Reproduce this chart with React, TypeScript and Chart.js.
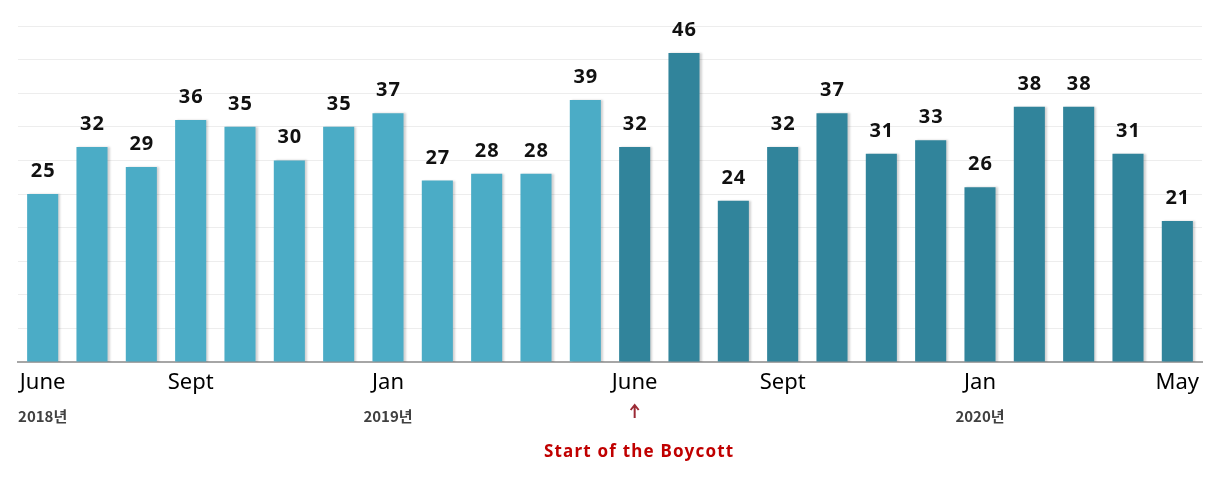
import React, { useEffect, useRef } from "react";
import { Chart, registerables } from "chart.js";

Chart.register(...registerables);

const months = [
  "June", "", "", "Sept", "", "", "", "Jan", "", "", "", "",
  "June", "", "", "Sept", "", "", "", "Jan", "", "", "", "May",
];
const values = [25, 32, 29, 36, 35, 30, 35, 37, 27, 28, 28, 39, 32, 46, 24, 32, 37, 31, 33, 26, 38, 38, 31, 21];
const yearLabels = [
  { index: 0, text: "2018년" },
  { index: 7, text: "2019년" },
  { index: 19, text: "2020년" },
];
const boycottIndex = 12;
const boycottText = "Start of the Boycott";
const beforeColor = "#4BACC6";
const afterColor = "#31849B";

const overlayPlugin = {
  id: "overlay",
  beforeDatasetsDraw(chart: any) {
    const ctx = chart.ctx;
    ctx.save();
    ctx.shadowColor = "rgba(0,0,0,0.18)";
    ctx.shadowOffsetX = 2;
    ctx.shadowOffsetY = 0;
    ctx.shadowBlur = 2;
  },
  afterDatasetsDraw(chart: any) {
    const ctx = chart.ctx;
    ctx.restore();
    const meta = chart.getDatasetMeta(0);
    ctx.save();
    ctx.fillStyle = "#111111";
    ctx.font = "bold 20px 'Noto Sans'";
    (ctx as any).letterSpacing = "1px";
    ctx.textAlign = "center";
    ctx.textBaseline = "alphabetic";
    meta.data.forEach((bar: any, i: number) => {
      ctx.fillText(String(values[i]), bar.x + 0.5, bar.y - 17);
    });
    ctx.restore();
  },
  afterDraw(chart: any) {
    const ctx = chart.ctx;
    const x = chart.scales.x;
    ctx.save();
    ctx.fillStyle = "#404040";
    ctx.font = "bold 15px 'Noto Sans CJK KR'";
    ctx.textAlign = "center";
    ctx.textBaseline = "alphabetic";
    yearLabels.forEach((y) => {
      ctx.fillText(y.text, x.getPixelForValue(y.index), 422);
    });
    const ax = x.getPixelForValue(boycottIndex);
    ctx.strokeStyle = "#9B2A35";
    ctx.lineWidth = 2;
    ctx.beginPath();
    ctx.moveTo(ax, 418);
    ctx.lineTo(ax, 406);
    ctx.moveTo(ax - 4, 410);
    ctx.lineTo(ax, 405);
    ctx.lineTo(ax + 4, 410);
    ctx.stroke();
    ctx.fillStyle = "#C00000";
    ctx.font = "bold 17px 'Noto Sans'";
    (ctx as any).letterSpacing = "1.2px";
    ctx.fillText(boycottText, ax + 4.5, 457);
    ctx.restore();
  },
};

export default function App() {
  const canvasRef = useRef<HTMLCanvasElement>(null);
  useEffect(() => {
    document.body.style.margin = "0";
    const chart = new Chart(canvasRef.current as HTMLCanvasElement, {
      type: "bar",
      data: {
        labels: months,
        datasets: [
          {
            data: values,
            backgroundColor: values.map((_, i) => (i < boycottIndex ? beforeColor : afterColor)),
            barPercentage: 0.63,
            categoryPercentage: 1,
            borderWidth: 0,
          },
        ],
      },
      options: {
        animation: false,
        responsive: false,
        maintainAspectRatio: false,
        layout: { padding: { left: 18, right: 16, top: 26, bottom: 0 } },
        plugins: { legend: { display: false }, tooltip: { enabled: false } },
        scales: {
          x: {
            grid: { display: false, drawTicks: false },
            border: { display: true, color: "#A6A6A6", width: 2 },
            ticks: {
              color: "#000000",
              font: { family: "'Noto Sans'", size: 22 },
              padding: 8,
              autoSkip: false,
              maxRotation: 0,
            },
            afterFit(scale: any) {
              scale.height = 131;
            },
          },
          y: {
            min: 0,
            max: 50,
            ticks: { display: false, stepSize: 5 },
            grid: { color: "#EDEDED", drawTicks: false },
            border: { display: false },
            afterFit(scale: any) {
              scale.width = 0;
            },
          },
        },
      },
      plugins: [overlayPlugin],
    });
    return () => chart.destroy();
  }, []);
  return (
    <div style={{ width: 1218, height: 493, background: "#ffffff" }}>
      <canvas ref={canvasRef} width={1218} height={493} style={{ width: 1218, height: 493, display: "block" }} />
    </div>
  );
}
